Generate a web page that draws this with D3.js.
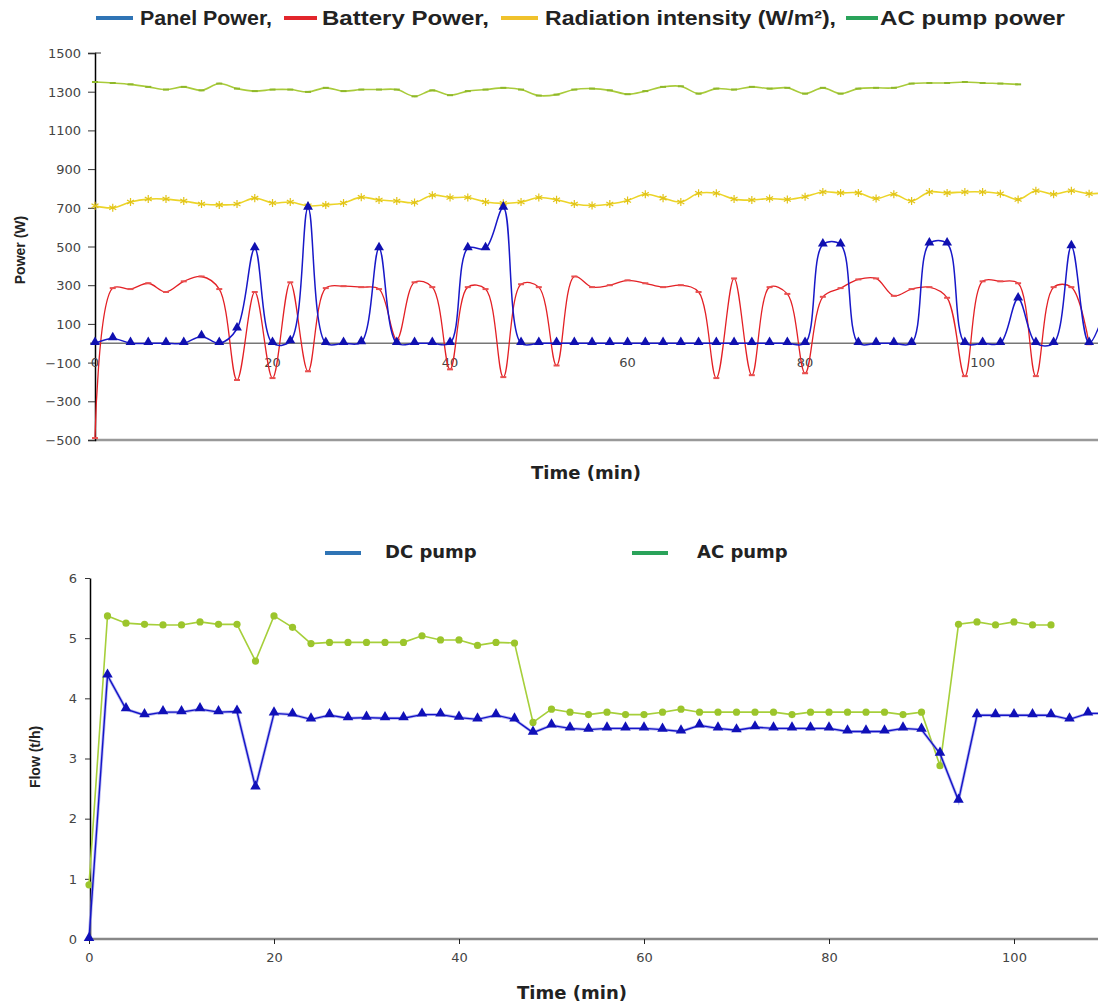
<!DOCTYPE html>
<html lang="en">
<head>
<meta charset="utf-8">
<title>Power and flow</title>
<script src="https://cdn.jsdelivr.net/npm/d3@7"></script>
<style>
  body { margin: 0; background: #fff; }
  svg { display: block; }
  .tick-label { font-family: "DejaVu Sans", sans-serif; font-size: 13px; fill: #444; }
  .title { font-family: "DejaVu Sans", sans-serif; font-weight: bold; font-size: 18px; fill: #222; }
  .ylab { font-family: "Liberation Sans", Arial, sans-serif; font-weight: bold; font-size: 14px; fill: #222; }
  .legend { font-family: "Liberation Sans", Arial, sans-serif; font-weight: bold; font-size: 20px; fill: #222; }
</style>
</head>
<body>
<script>
// ---------- top chart data (time in min, power in W) ----------
var topTime = [0,2,4,6,8,10,12,14,16,18,20,22,24,26,28,30,32,34,36,38,40,42,44,46,48,50,52,54,56,58,
  60,62,64,66,68,70,72,74,76,78,80,82,84,86,88,90,92,94,96,98,100,102,104,106,108,110,112,114];

var panelPower = [0,25,0,0,0,0,35,0,75,490,0,10,700,0,0,5,490,0,0,0,0,490,490,700,0,0,0,0,0,0,
  0,0,0,0,0,0,0,0,0,0,0,510,510,0,0,0,0,515,515,0,0,0,230,0,0,500,0,200];

var batteryPower = [-490,285,280,310,265,320,345,280,-190,265,-180,315,-145,285,295,290,280,20,315,290,
  -135,290,280,-175,305,290,-115,345,290,300,325,310,290,300,265,-180,335,-165,290,255,-155,240,285,330,
  335,245,280,290,235,-170,320,320,310,-170,290,290,-5];

var radiation = [710,700,730,745,745,735,720,715,720,750,725,730,710,715,725,755,740,735,727,765,753,753,
  730,723,730,753,742,720,712,720,738,770,750,730,775,775,745,740,748,743,757,782,777,777,748,770,735,782,
  777,782,782,773,743,788,770,788,773,780];

var acPumpPower = [1350,1345,1338,1325,1311,1325,1307,1342,1316,1303,1311,1311,1299,1320,1303,1311,1311,
  1311,1276,1307,1282,1303,1311,1320,1311,1280,1285,1311,1316,1307,1287,1303,1325,1328,1290,1316,1311,
  1325,1316,1320,1290,1320,1290,1316,1320,1320,1342,1345,1345,1350,1345,1342,1338];

var topYTicks = [-500,-300,-100,100,300,500,700,900,1100,1300,1500];
var topXTicks = [0,20,40,60,80,100];
var topLegend = ["Panel Power,", "Battery Power,", "Radiation intensity (W/m\u00B2),", "AC pump power"];

// ---------- bottom chart data (time in min, flow in t/h) ----------
var botTime = [0,2,4,6,8,10,12,14,16,18,20,22,24,26,28,30,32,34,36,38,40,42,44,46,48,50,52,54,56,58,
  60,62,64,66,68,70,72,74,76,78,80,82,84,86,88,90,92,94,96,98,100,102,104,106,108,110];

var dcPump = [0,4.38,3.82,3.72,3.77,3.77,3.82,3.77,3.78,2.52,3.75,3.73,3.65,3.72,3.67,3.68,3.67,3.67,
  3.73,3.73,3.68,3.65,3.72,3.65,3.43,3.55,3.50,3.48,3.50,3.50,3.50,3.48,3.45,3.55,3.50,3.47,3.52,3.50,
  3.50,3.50,3.50,3.45,3.45,3.45,3.50,3.48,3.08,2.30,3.72,3.72,3.72,3.72,3.72,3.65,3.75,3.75];

var acPump = [0.9,5.37,5.25,5.23,5.22,5.22,5.27,5.23,5.23,4.62,5.37,5.18,4.91,4.93,4.93,4.93,4.93,4.93,
  5.04,4.97,4.97,4.88,4.93,4.92,3.60,3.82,3.77,3.73,3.77,3.73,3.73,3.77,3.82,3.77,3.77,3.77,3.77,3.77,
  3.73,3.77,3.77,3.77,3.77,3.77,3.73,3.77,2.88,5.23,5.27,5.22,5.27,5.22,5.22];

var botYTicks = [0,1,2,3,4,5,6];
var botXTicks = [0,20,40,60,80,100];
var botLegend = ["DC pump", "AC pump"];

var W = 1098, H = 1003;
var svg = d3.select("body").append("svg").attr("width", W).attr("height", H);

function pairs(xs, ys) { return ys.map(function(v, i) { return [xs[i], v]; }); }

// ================= TOP CHART =================
var xTop = d3.scaleLinear().domain([0, 113]).range([95, 1098]);
var yTop = d3.scaleLinear().domain([-500, 1500]).range([440, 53]);

svg.append("clipPath").attr("id", "clipTop").append("rect")
  .attr("x", 80).attr("y", 40).attr("width", W - 80).attr("height", 420);

// legend
var tl = svg.append("g");
var topLegendColors = ["#2f74b5", "#e2262c", "#f0c22c", "#2aa35a"];
var topLegendX = [96, 284, 501, 846];
var topLegendLen = [37, 33, 37, 32];
var topLegendTextX = [140, 322, 545, 880];
var topLegendTextW = [132, 167, 291, 185];
topLegend.forEach(function(name, i) {
  tl.append("line").attr("x1", topLegendX[i]).attr("x2", topLegendX[i] + topLegendLen[i])
    .attr("y1", 18).attr("y2", 18).attr("stroke", topLegendColors[i]).attr("stroke-width", 4);
  tl.append("text").attr("class", "legend").attr("x", topLegendTextX[i]).attr("y", 25)
    .attr("textLength", topLegendTextW[i]).attr("lengthAdjust", "spacingAndGlyphs").text(name);
});

// bottom border line and zero line
svg.append("line").attr("x1", 95).attr("x2", W).attr("y1", yTop(-500)).attr("y2", yTop(-500))
  .attr("stroke", "#999").attr("stroke-width", 2.5);
svg.append("line").attr("x1", 90).attr("x2", W).attr("y1", yTop(0)).attr("y2", yTop(0))
  .attr("stroke", "#777").attr("stroke-width", 1.5);

// y axis
var yAxTop = svg.append("g").attr("transform", "translate(95,0)")
  .call(d3.axisLeft(yTop).tickValues(topYTicks).tickSize(7).tickFormat(d3.format("d")));
yAxTop.select(".domain").attr("stroke", "#000").attr("stroke-width", 1.5);
yAxTop.selectAll(".tick line").attr("stroke", "#333");
yAxTop.selectAll(".tick text").attr("class", "tick-label").attr("x", -14).attr("dy", "0.35em");
svg.append("line").attr("x1", 95).attr("x2", 101).attr("y1", yTop(1500)).attr("y2", yTop(1500)).attr("stroke", "#333");

// x tick labels sit under the zero line
svg.append("g").selectAll("text").data(topXTicks).enter().append("text")
  .attr("class", "tick-label").attr("text-anchor", "middle")
  .attr("x", function(d) { return xTop(d); }).attr("y", yTop(0) + 24)
  .text(function(d) { return d; });

svg.append("text").attr("class", "title").attr("text-anchor", "middle")
  .attr("x", 586).attr("y", 479).text("Time (min)");
svg.append("text").attr("class", "ylab").attr("text-anchor", "middle")
  .attr("transform", "translate(25,250) rotate(-90)").text("Power (W)");

var lineTop = d3.line().curve(d3.curveCatmullRom.alpha(0.5))
  .x(function(d) { return xTop(d[0]); }).y(function(d) { return yTop(d[1]); });

var plotTop = svg.append("g").attr("clip-path", "url(#clipTop)");

// AC pump power
var acP = pairs(topTime, acPumpPower);
plotTop.append("path").datum(acP).attr("d", lineTop)
  .attr("fill", "none").attr("stroke", "#a9cb3a").attr("stroke-width", 1.6);
plotTop.selectAll(".acm").data(acP).enter().append("line").attr("class", "acm")
  .attr("x1", function(d) { return xTop(d[0]) - 3; }).attr("x2", function(d) { return xTop(d[0]) + 3; })
  .attr("y1", function(d) { return yTop(d[1]); }).attr("y2", function(d) { return yTop(d[1]); })
  .attr("stroke", "#8fb82a").attr("stroke-width", 2);

// radiation intensity
var rad = pairs(topTime, radiation);
plotTop.append("path").datum(rad).attr("d", lineTop)
  .attr("fill", "none").attr("stroke", "#ecd428").attr("stroke-width", 1.6);
plotTop.selectAll(".radm").data(rad).enter().append("path").attr("class", "radm")
  .attr("d", d3.symbol().type(d3.symbolAsterisk).size(45))
  .attr("transform", function(d) { return "translate(" + xTop(d[0]) + "," + yTop(d[1]) + ")"; })
  .attr("fill", "none").attr("stroke", "#e2c418").attr("stroke-width", 1.2);

// battery power
var bat = pairs(topTime, batteryPower);
plotTop.append("path").datum(bat).attr("d", lineTop)
  .attr("fill", "none").attr("stroke", "#e32025").attr("stroke-width", 1.3);
plotTop.selectAll(".batm").data(bat).enter().append("line").attr("class", "batm")
  .attr("x1", function(d) { return xTop(d[0]) - 3; }).attr("x2", function(d) { return xTop(d[0]) + 3; })
  .attr("y1", function(d) { return yTop(d[1]); }).attr("y2", function(d) { return yTop(d[1]); })
  .attr("stroke", "#e85050").attr("stroke-width", 2);

// panel power
var pan = pairs(topTime, panelPower);
plotTop.append("path").datum(pan).attr("d", lineTop)
  .attr("fill", "none").attr("stroke", "#1818c8").attr("stroke-width", 1.5);
plotTop.selectAll(".panm").data(pan).enter().append("path").attr("class", "panm")
  .attr("d", d3.symbol().type(d3.symbolTriangle).size(42))
  .attr("transform", function(d) { return "translate(" + xTop(d[0]) + "," + (yTop(d[1]) - 1) + ")"; })
  .attr("fill", "#1010b0");

// ================= BOTTOM CHART =================
var xBot = d3.scaleLinear().domain([0, 110]).range([89, 89 + 110 * 9.25]);
var yBot = d3.scaleLinear().domain([0, 6]).range([939, 578]);

svg.append("clipPath").attr("id", "clipBot").append("rect")
  .attr("x", 80).attr("y", 560).attr("width", W - 80).attr("height", 400);

// legend
var botLegendColors = ["#2f74b5", "#2aa35a"];
var botLegendX = [325, 632];
var botLegendTextX = [385, 697];
botLegend.forEach(function(name, i) {
  svg.append("line").attr("x1", botLegendX[i]).attr("x2", botLegendX[i] + 36)
    .attr("y1", 553).attr("y2", 553).attr("stroke", botLegendColors[i]).attr("stroke-width", 4);
  svg.append("text").attr("class", "title").attr("x", botLegendTextX[i]).attr("y", 558).text(name);
});

// x axis
var xAxBot = svg.append("g").attr("transform", "translate(0," + yBot(0) + ")")
  .call(d3.axisBottom(xBot).tickValues(botXTicks).tickSize(5).tickSizeOuter(0));
xAxBot.select(".domain").attr("stroke", "#888").attr("stroke-width", 2.5)
  .attr("d", "M89,0H" + W);
xAxBot.selectAll(".tick line").attr("stroke", "#222").attr("y1", 0).attr("y2", 5);
xAxBot.selectAll(".tick text").attr("class", "tick-label").attr("y", 14).attr("dy", "0.71em");

// y axis
var yAxBot = svg.append("g").attr("transform", "translate(90,0)")
  .call(d3.axisLeft(yBot).tickValues(botYTicks).tickSize(5).tickSizeOuter(0).tickFormat(d3.format("d")));
yAxBot.select(".domain").attr("stroke", "#000").attr("stroke-width", 1.5);
yAxBot.selectAll(".tick line").attr("stroke", "#333");
yAxBot.selectAll(".tick text").attr("class", "tick-label").attr("x", -13);

svg.append("text").attr("class", "title").attr("text-anchor", "middle")
  .attr("x", 572).attr("y", 999).text("Time (min)");
svg.append("text").attr("class", "ylab").attr("text-anchor", "middle")
  .attr("transform", "translate(40,757) rotate(-90)").text("Flow (t/h)");

var lineBot = d3.line()
  .x(function(d) { return xBot(d[0]); }).y(function(d) { return yBot(d[1]); });

var plotBot = svg.append("g").attr("clip-path", "url(#clipBot)");

var ac = pairs(botTime, acPump);
plotBot.append("path").datum(ac).attr("d", lineBot)
  .attr("fill", "none").attr("stroke", "#a6cf3a").attr("stroke-width", 1.6);
plotBot.selectAll(".acb").data(ac).enter().append("circle").attr("class", "acb")
  .attr("cx", function(d) { return xBot(d[0]); }).attr("cy", function(d) { return yBot(d[1]); })
  .attr("r", 3.6).attr("fill", "#9cc52c");

var dc = pairs(botTime, dcPump);
plotBot.append("path").datum(dc).attr("d", lineBot)
  .attr("fill", "none").attr("stroke", "#8a8ae8").attr("stroke-width", 3).attr("stroke-opacity", 0.6);
plotBot.append("path").datum(dc).attr("d", lineBot)
  .attr("fill", "none").attr("stroke", "#1414c8").attr("stroke-width", 1.4);
plotBot.selectAll(".dcb").data(dc).enter().append("path").attr("class", "dcb")
  .attr("d", d3.symbol().type(d3.symbolTriangle).size(48))
  .attr("transform", function(d) { return "translate(" + xBot(d[0]) + "," + (yBot(d[1]) - 1) + ")"; })
  .attr("fill", "#1010b8");
</script>
</body>
</html>
